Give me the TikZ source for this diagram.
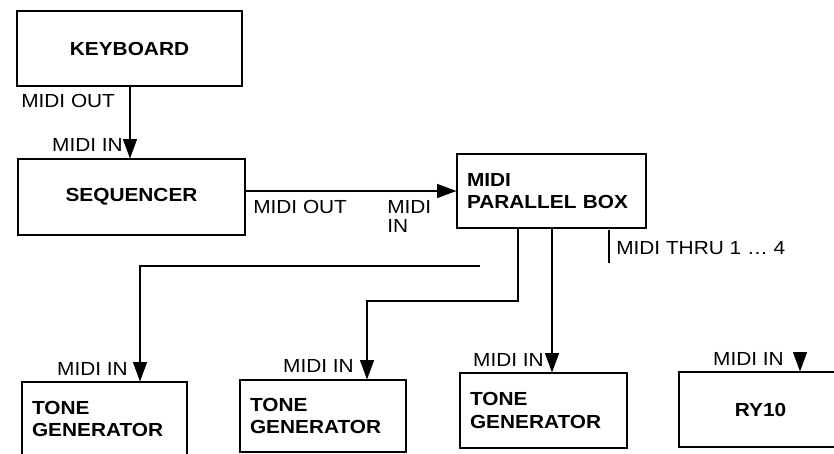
\documentclass[tikz,border=0pt]{standalone}
\usepackage{fontspec}
\setmainfont[FakeStretch=1.1]{Liberation Sans}
\usetikzlibrary{arrows.meta}
\begin{document}
\begin{tikzpicture}[x=0.75pt,y=-0.75pt,
  boxfont/.style={font=\fontsize{14.2pt}{17pt}\selectfont\bfseries},
  cbox/.style={draw, line width=0.8pt, inner sep=0pt, align=center, boxfont},
  lbox/.style={draw, line width=0.8pt, inner xsep=7.5pt, inner ysep=0pt, align=left, boxfont},
  lbl/.style={inner sep=0pt, font=\fontsize{14.2pt}{14.5pt}\selectfont},
  wire/.style={line width=0.8pt},
  arr/.style={wire, -{Triangle[length=14.5pt,width=10.5pt]}}]
\useasboundingbox (0,0) rectangle (834,453);
\clip (0,0) rectangle (834,453);
% boxes
\node[cbox, minimum width=168.75pt, minimum height=56.25pt] (kbd) at (129.5,48.5) {KEYBOARD};
\node[cbox, minimum width=170.25pt, minimum height=57pt] (seq) at (131.5,197) {SEQUENCER};
\node[lbox, text width=126.75pt, minimum height=55.5pt] (par) at (551.5,191) {MIDI\\PARALLEL BOX};
\node[lbox, text width=108.75pt, minimum height=55.5pt] (tg1) at (104.5,419) {TONE\\GENERATOR};
\node[lbox, text width=109.5pt, minimum height=54pt] (tg2) at (323,416) {TONE\\GENERATOR};
\node[lbox, text width=110.25pt, minimum height=56.25pt] (tg3) at (543.5,410.5) {TONE\\GENERATOR};
\node[cbox, minimum width=122.25pt, minimum height=56.25pt] (ry) at (760.5,409.5) {RY10};
% helper coordinates
\coordinate (xa) at (130,0);
\coordinate (x2) at (518,0);
\coordinate (b2) at (367,301);
\coordinate (x3) at (552,0);
\coordinate (f1) at (480,266);
\coordinate (b1) at (140,267);
\coordinate (r0) at (800,352);
\coordinate (t0) at (609,230);
\coordinate (t1) at (609,263);
% connectors
\draw[arr] (kbd.south -| xa) -- (seq.north -| xa);
\draw[arr] (par.west -| seq.east) -- (par.west);
\draw[arr] (par.south -| x2) |- (b2) -- (tg2.north -| b2);
\draw[arr] (par.south -| x3) -- (tg3.north -| x3);
\draw[arr] (f1) -- (f1 -| b1) -- (tg1.north -| b1);
\draw[arr] (r0) -- (ry.north -| r0);
\draw[wire] (t0) -- (t1);
% labels
\node[lbl, anchor=west] (l1) at (21,101) {MIDI OUT};
\node[lbl, anchor=east] (l2) at (123,145) {MIDI IN};
\node[lbl, anchor=west] (l3) at (253,207) {MIDI OUT};
\node[lbl, anchor=north west, align=left] (l4) at (387,200) {MIDI\\IN};
\node[lbl, anchor=east] (l5) at (128,369) {MIDI IN};
\node[lbl, anchor=east] (l6) at (354,366) {MIDI IN};
\node[lbl, anchor=east] (l7) at (544,360) {MIDI IN};
\node[lbl, anchor=east] (l8) at (784,359) {MIDI IN};
\node[lbl, anchor=west] (l9) at (616,248) {MIDI THRU 1 … 4};
\end{tikzpicture}
\end{document}
